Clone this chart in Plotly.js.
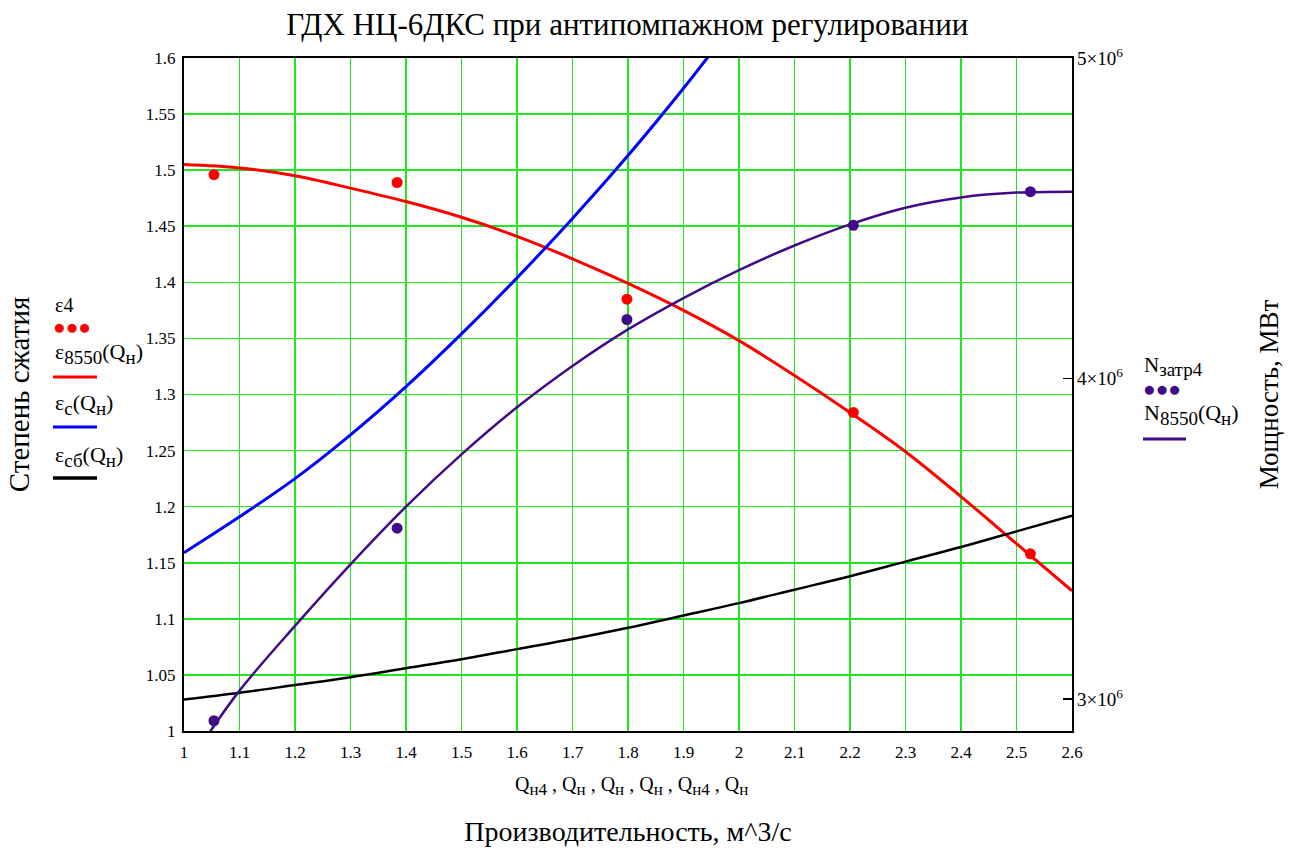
<!DOCTYPE html>
<html>
<head>
<meta charset="utf-8">
<script src="https://cdn.plot.ly/plotly-3.0.1.min.js"></script>
<style>html,body{margin:0;padding:0;background:#fff;}#chart{width:1300px;height:850px;}</style>
</head>
<body>
<div id="chart"></div>
<script>
// ---- data ----
const Qn4 = [1.054, 1.384, 1.798, 2.206, 2.525];
const eps4 = [1.496, 1.489, 1.385, 1.284, 1.158];
const Nzatr4 = [2.932e6, 3.533e6, 4.184e6, 4.478e6, 4.583e6];

const Qn = [1.0, 1.1, 1.2, 1.3, 1.4, 1.5, 1.6, 1.7, 1.8, 1.9, 2.0, 2.1, 2.2, 2.3, 2.4, 2.5, 2.6];
const eps8550 = [1.505, 1.502, 1.495, 1.484, 1.472, 1.458, 1.441, 1.421, 1.399, 1.375, 1.348, 1.317, 1.284, 1.249, 1.209, 1.167, 1.125];
const QnC = [1.0, 1.1, 1.2, 1.3, 1.4, 1.5, 1.6, 1.7, 1.8, 1.9, 2.0];
const epsC = [1.159, 1.191, 1.225, 1.264, 1.307, 1.354, 1.404, 1.457, 1.513, 1.573, 1.637];
const epsSB = [1.028, 1.034, 1.041, 1.048, 1.056, 1.064, 1.073, 1.082, 1.092, 1.103, 1.114, 1.126, 1.138, 1.151, 1.164, 1.178, 1.192];
const QnN = [1.04, 1.1, 1.2, 1.3, 1.4, 1.5, 1.6, 1.7, 1.8, 1.9, 2.0, 2.1, 2.2, 2.3, 2.4, 2.5, 2.6];
const N8550 = [2.880e6, 3.026e6, 3.228e6, 3.420e6, 3.600e6, 3.763e6, 3.910e6, 4.039e6, 4.153e6, 4.251e6, 4.338e6, 4.415e6, 4.481e6, 4.533e6, 4.565e6, 4.580e6, 4.583e6];

const yLeftTicks = [1, 1.05, 1.1, 1.15, 1.2, 1.25, 1.3, 1.35, 1.4, 1.45, 1.5, 1.55, 1.6];
const yRightTicks = [3e6, 4e6, 5e6];
const yRightLabels = ['3×10<sup>6</sup>', '4×10<sup>6</sup>', '5×10<sup>6</sup>'];

const RED = '#ff0000', BLUE = '#0000ff', BLACK = '#000000', PURPLE = '#420a86';
const FONT = 'Liberation Serif, Times New Roman, serif';

const traces = [
  {x: Qn, y: eps8550, mode: 'lines', line: {color: RED, width: 3, shape: 'spline'}, name: 'ε8550'},
  {x: QnC, y: epsC, mode: 'lines', line: {color: BLUE, width: 3, shape: 'spline'}, name: 'εc'},
  {x: Qn, y: epsSB, mode: 'lines', line: {color: BLACK, width: 2.5, shape: 'spline'}, name: 'εсб'},
  {x: QnN, y: N8550, yaxis: 'y2', mode: 'lines', line: {color: PURPLE, width: 2.5, shape: 'spline'}, name: 'N8550'},
  {x: Qn4, y: eps4, mode: 'markers', marker: {color: RED, size: 11}, name: 'ε4', cliponaxis: false},
  {x: Qn4, y: Nzatr4, yaxis: 'y2', mode: 'markers', marker: {color: PURPLE, size: 11}, name: 'Nзатр4', cliponaxis: false}
];

const W = 1300, H = 850, L = 184, R = 228, T = 58, B = 119;
const pw = W - L - R, ph = H - T - B;
const px = v => (v - L) / pw;           // page pixel -> paper x
const py = v => (H - B - v) / ph;       // page pixel -> paper y

function ann(text, xPix, yPix, size, color, xanchor) {
  return {text: text, xref: 'paper', yref: 'paper', x: px(xPix), y: py(yPix), showarrow: false,
    xanchor: xanchor || 'left', yanchor: 'middle', font: {family: FONT, size: size, color: color || '#000'}};
}
function legLine(x0, x1, yPix, color, w) {
  return {type: 'line', xref: 'paper', yref: 'paper', x0: px(x0), x1: px(x1), y0: py(yPix), y1: py(yPix),
    line: {color: color, width: w}};
}
const sub = (t, s) => '<sub><span style="font-size:' + (s || 18) + 'px">' + t + '</span></sub>';

const layout = {
  width: W, height: H,
  margin: {l: L, r: R, t: T, b: B},
  paper_bgcolor: '#fff', plot_bgcolor: '#fff',
  showlegend: false,
  hovermode: false,
  font: {family: FONT, color: '#000'},
  title: {text: 'ГДХ НЦ-6ДКС при антипомпажном регулировании', x: 0.4825, xanchor: 'center', y: 0.972, yanchor: 'middle',
          font: {family: FONT, size: 31, color: '#000'}},
  xaxis: {
    range: [1, 2.6], dtick: 0.1, tick0: 1, showgrid: true, gridcolor: '#22e622', gridwidth: 1.6,
    zeroline: false, showline: true, mirror: true, linecolor: '#000', linewidth: 2,
    ticks: '', tickfont: {family: FONT, size: 17, color: '#000'}, ticklabelstandoff: 5,
    title: {text: 'Производительность, м^3/с', font: {family: FONT, size: 28, color: '#000'}, standoff: 60}
  },
  yaxis: {
    range: [1, 1.6], tickvals: yLeftTicks, ticktext: yLeftTicks.map(String), showgrid: true, gridcolor: '#22e622', gridwidth: 1.6,
    zeroline: false, showline: true, mirror: true, linecolor: '#000', linewidth: 2,
    ticks: '', tickfont: {family: FONT, size: 17, color: '#000'}, ticklabelstandoff: 3,
    title: {text: 'Степень сжатия', font: {family: FONT, size: 29, color: '#000'}, standoff: 108}
  },
  yaxis2: {
    overlaying: 'y', side: 'right', range: [2.9e6, 5e6], tickvals: yRightTicks, ticktext: yRightLabels,
    showgrid: false, zeroline: false, showline: false,
    ticks: 'inside', ticklen: 9, tickwidth: 1.5, tickcolor: '#000',
    tickfont: {family: FONT, size: 19, color: '#000'}, ticklabelstandoff: 4,
    title: {text: 'Мощность, МВт', font: {family: FONT, size: 27, color: '#000'}, standoff: 136}
  },
  annotations: [
    ann('Q' + sub('н4', 17) + ' , Q' + sub('н', 17) + ' , Q' + sub('н', 17) + ' , Q' + sub('н', 17) + ' , Q' + sub('н4', 17) + ' , Q' + sub('н', 17), 631, 786, 20, '#000', 'center'),
    ann('ε4', 53, 305, 20),
    ann('●●●', 51, 327, 21, RED),
    ann('ε' + sub('8550', 19) + '(Q' + sub('н', 19) + ')', 53, 353, 22),
    ann('ε' + sub('c', 19) + '(Q' + sub('н', 19) + ')', 53, 405, 22),
    ann('ε' + sub('сб', 19) + '(Q' + sub('н', 19) + ')', 53, 456, 22),
    ann('N' + sub('затр4', 19), 1142, 366, 21),
    ann('●●●', 1141, 389, 21, PURPLE),
    ann('N' + sub('8550', 19) + '(Q' + sub('н', 19) + ')', 1142, 414, 22)
  ],
  shapes: [
    legLine(53, 97, 377, RED, 3),
    legLine(53, 97, 427, BLUE, 3),
    legLine(53, 97, 478, BLACK, 3.5),
    legLine(1143, 1186, 439, PURPLE, 3)
  ]
};

Plotly.newPlot('chart', traces, layout, {staticPlot: true, displayModeBar: false});
</script>
</body>
</html>
